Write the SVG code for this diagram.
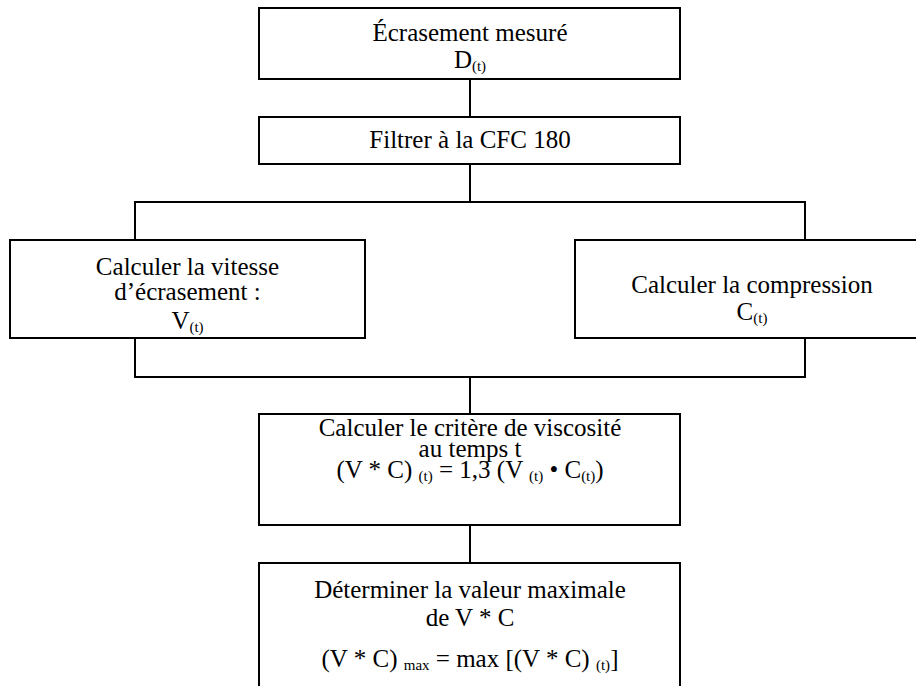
<svg xmlns="http://www.w3.org/2000/svg" width="916" height="686" viewBox="0 0 916 686">
<style>
rect.box{fill:#fff;stroke:#000;stroke-width:2}
.con path{fill:none;stroke:#000;stroke-width:2}
text{font-family:"Liberation Serif","Times New Roman",serif;font-size:25px;fill:#000;text-anchor:middle}
.s{font-size:15px}
</style>
<rect width="916" height="686" fill="#fff"/>
<g class="con" id="connectors">
<path d="M470 79V117"/>
<path d="M470 164V202"/>
<path d="M135 240V202H805V240"/>
<path d="M135 338V377H805V338"/>
<path d="M470 377V414"/>
<path d="M470 525V563"/>
</g>
<g id="n1">
<rect class="box" x="259" y="8" width="421" height="71"/>
<text x="470" y="41">Écrasement mesuré</text>
<text x="470" y="68">D<tspan class="s" dy="3">(t)</tspan></text>
</g>
<g id="n2">
<rect class="box" x="259" y="117" width="421" height="47"/>
<text x="470" y="148">Filtrer à la CFC 180</text>
</g>
<g id="n3">
<rect class="box" x="10" y="240" width="355" height="98"/>
<text x="187.5" y="275">Calculer la vitesse</text>
<text x="187.5" y="300">d’écrasement :</text>
<text x="187.5" y="329">V<tspan class="s" dy="3">(t)</tspan></text>
</g>
<g id="n4">
<rect class="box" x="575" y="240" width="356" height="98"/>
<text x="752" y="293">Calculer la compression</text>
<text x="752" y="320">C<tspan class="s" dy="3">(t)</tspan></text>
</g>
<g id="n5">
<rect class="box" x="259" y="414" width="421" height="111"/>
<text x="470" y="436">Calculer le critère de viscosité</text>
<text x="470" y="457">au temps t</text>
<text x="470" y="478">(V * C) <tspan class="s" dy="3">(t)</tspan><tspan dy="-3"> = 1,3 (V </tspan><tspan class="s" dy="3">(t)</tspan><tspan dy="-3"> • C</tspan><tspan class="s" dy="3">(t)</tspan><tspan dy="-3">)</tspan></text>
</g>
<g id="n6">
<rect class="box" x="259" y="563" width="421" height="140"/>
<text x="470" y="598">Déterminer la valeur maximale</text>
<text x="470" y="626">de V * C</text>
<text x="470" y="667">(V * C) <tspan class="s" dy="3">max</tspan><tspan dy="-3"> = max [(V * C) </tspan><tspan class="s" dy="3">(t)</tspan><tspan dy="-3">]</tspan></text>
</g>
</svg>
